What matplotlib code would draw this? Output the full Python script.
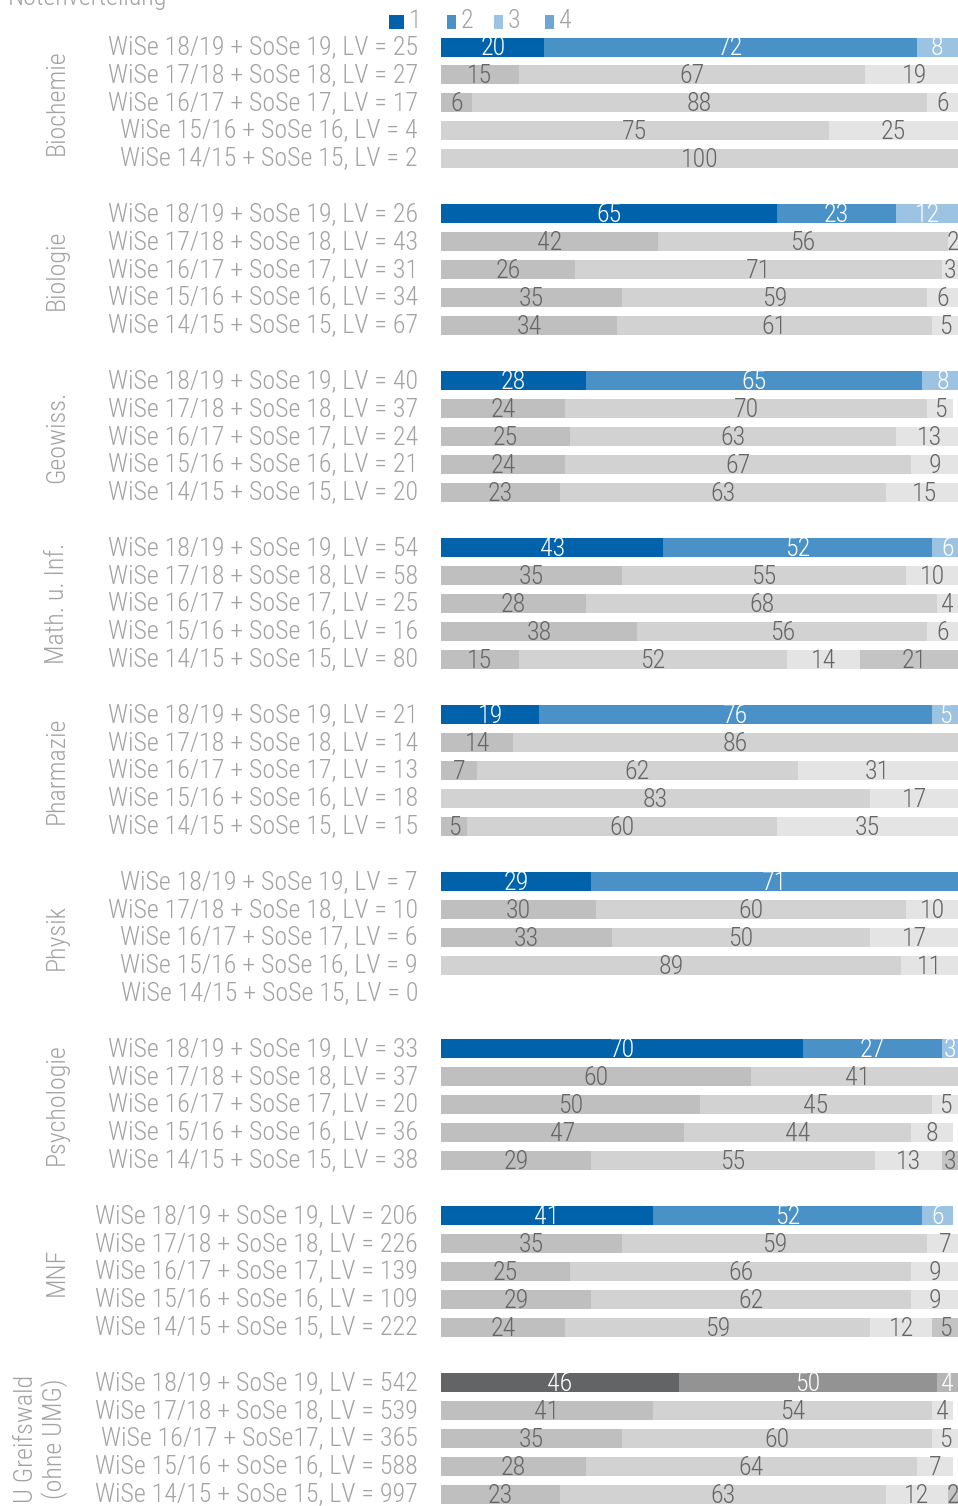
import os
import matplotlib
matplotlib.use('Agg')
import matplotlib.pyplot as plt
import matplotlib.transforms as mtransforms
from matplotlib.patches import Rectangle
from matplotlib import font_manager

# Notenverteilung je Fach, Anteile in Prozent fuer Note 1..4
groups = ["Biochemie", "Biologie", "Geowiss.", "Math. u. Inf.", "Pharmazie",
          "Physik", "Psychologie", "MNF", "U Greifswald\n(ohne UMG)"]

semesters = ["WiSe 18/19 + SoSe 19", "WiSe 17/18 + SoSe 18", "WiSe 16/17 + SoSe 17",
             "WiSe 15/16 + SoSe 16", "WiSe 14/15 + SoSe 15"]

lv_counts = [
    [25, 27, 17, 4, 2],
    [26, 43, 31, 34, 67],
    [40, 37, 24, 21, 20],
    [54, 58, 25, 16, 80],
    [21, 14, 13, 18, 15],
    [7, 10, 6, 9, 0],
    [33, 37, 20, 36, 38],
    [206, 226, 139, 109, 222],
    [542, 539, 365, 588, 997],
]

note1 = [
    [20, 15, 6, 0, 0],
    [65, 42, 26, 35, 34],
    [28, 24, 25, 24, 23],
    [43, 35, 28, 38, 15],
    [19, 14, 7, 0, 5],
    [29, 30, 33, 0, 0],
    [70, 60, 50, 47, 29],
    [41, 35, 25, 29, 24],
    [46, 41, 35, 28, 23],
]
note2 = [
    [72, 67, 88, 75, 100],
    [23, 56, 71, 59, 61],
    [65, 70, 63, 67, 63],
    [52, 55, 68, 56, 52],
    [76, 86, 62, 83, 60],
    [71, 60, 50, 89, 0],
    [27, 41, 45, 44, 55],
    [52, 59, 66, 62, 59],
    [50, 54, 60, 64, 63],
]
note3 = [
    [8, 19, 6, 25, 0],
    [12, 2, 3, 6, 5],
    [8, 5, 13, 9, 15],
    [6, 10, 4, 6, 14],
    [5, 0, 31, 17, 35],
    [0, 10, 17, 11, 0],
    [3, 0, 5, 8, 13],
    [6, 7, 9, 9, 12],
    [4, 4, 5, 7, 12],
]
note4 = [
    [0, 0, 0, 0, 0],
    [0, 0, 0, 0, 0],
    [0, 0, 0, 0, 0],
    [0, 0, 0, 0, 21],
    [0, 0, 0, 0, 0],
    [0, 0, 0, 0, 0],
    [0, 0, 0, 0, 3],
    [0, 0, 0, 0, 5],
    [0, 0, 0, 0, 2],
]

legend_labels = ["1", "2", "3", "4"]

# Farben
blue = ["#0062ab", "#4a91c7", "#9cc3e1", "#6fa6d3"]
grey_now = ["#636466", "#939393", "#b5b5b5", "#c4c4c4"]
grey_old = ["#bfbfbf", "#d2d2d2", "#e4e4e4", "#c4c4c4"]
text_grey = "#a3a3a3"
value_grey = "#666666"


def pick_font():
    """Schmale Schrift suchen, sonst Standard."""
    prefs = ["robotocondensed-light", "notosans-condensedlight", "opensans-condensedlight",
             "liberationsansnarrow-regular", "notosans-condensed.", "robotocondensed-regular",
             "dejavusanscondensed."]
    files = [f.fname for f in font_manager.fontManager.ttflist]
    for p in prefs:
        for fn in files:
            if p in os.path.basename(fn).lower().replace("_", ""):
                return fn
    for fn in files:
        b = os.path.basename(fn).lower()
        if ("condensed" in b or "narrow" in b) and "bold" not in b and "italic" not in b \
                and "oblique" not in b and "semi" not in b and "extra" not in b:
            return fn
    return None


font_file = pick_font()
if font_file:
    fp = font_manager.FontProperties(fname=font_file)
else:
    fp = font_manager.FontProperties(family="Liberation Sans")

W, H, DPI = 958, 1506, 100
fig = plt.figure(figsize=(W / DPI, H / DPI), dpi=DPI)
fig.patch.set_facecolor('white')

# Schriftgroesse so waehlen, dass eine Zeilenbeschriftung ~310 px breit ist
renderer = fig.canvas.get_renderer()
probe = fig.text(0, 0, "WiSe 18/19 + SoSe 19, LV = 25", fontproperties=fp, fontsize=20)
fs = 20 * 310 / probe.get_window_extent(renderer).width
probe.remove()
fs = min(fs, 21)

x0 = 441
y_first, pitch = 47, 27.83
ax = fig.add_axes([x0 / W, 0, 1 - x0 / W, 1])
ax.set_xlim(0, 100)
ax.set_ylim((H - y_first) / pitch, -y_first / pitch)
ax.axis('off')

bar_h = 19 / pitch
label_tr = mtransforms.blended_transform_factory(fig.transFigure, ax.transData)

for g, name in enumerate(groups):
    base = g * 6
    for r, sem in enumerate(semesters):
        pos = base + r
        vals = [note1[g][r], note2[g][r], note3[g][r], note4[g][r]]
        if r == 0:
            colors = grey_now if g == len(groups) - 1 else blue
            tcol = "white"
        else:
            colors = grey_old
            tcol = value_grey
        left = 0
        for v, c in zip(vals, colors):
            if v > 0:
                ax.barh(pos, v, left=left, height=bar_h, color=c, linewidth=0)
                ax.text(left + v / 2, pos + 0.05, str(v), ha='center', va='center',
                        fontproperties=fp, fontsize=fs, color=tcol, clip_on=False)
            left += v
        label = f"{sem}, LV = {lv_counts[g][r]}"
        if g == len(groups) - 1 and r == 2:
            label = label.replace("SoSe 17", "SoSe17")
        ax.text(418 / W, pos, label, transform=label_tr, ha='right', va='center',
                fontproperties=fp, fontsize=fs, color=text_grey)
    gx = 57 / W if "\n" not in name else 41 / W
    ax.text(gx, base + 2, name, transform=label_tr, rotation=90, ha='center',
            va='center', fontproperties=fp, fontsize=fs, color=text_grey,
            linespacing=1.15, multialignment='center')

# Titel (oben angeschnitten)
fig.text(8 / W, 1 - 5 / H, "Notenverteilung", ha='left', va='baseline',
         fontproperties=fp, fontsize=fs, color=text_grey)

# Legende
leg_x = [389, 446.5, 493.7, 545]
leg_w = [15, 9, 9, 9]
for lx, lw, c, lab in zip(leg_x, leg_w, blue, legend_labels):
    fig.patches.append(Rectangle((lx / W, 1 - 28.7 / H), lw / W, 14.2 / H,
                                 transform=fig.transFigure, color=c, linewidth=0))
    fig.text((lx + lw + 5) / W, 1 - 21.5 / H, lab, ha='left', va='center',
             fontproperties=fp, fontsize=fs, color=text_grey)

fig.savefig("out.png", dpi=DPI, facecolor='white')
